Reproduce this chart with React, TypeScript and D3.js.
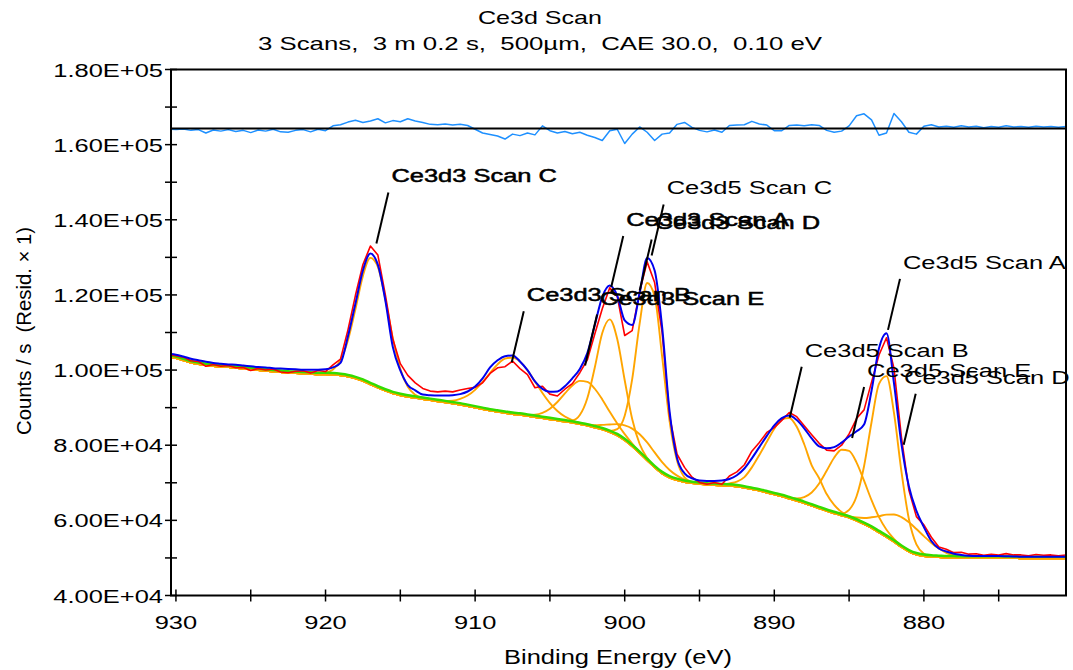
import * as d3 from 'd3';

// binding energy grid of the exported spectrum, 0.5 eV steps (930.5 -> 870.5)
const energy = d3.range(930.5, 870.4, -0.5);

// envelope (fitted sum), counts/s
const envelope = [
  104300, 104100, 103600, 103000, 102600, 102200, 101900, 101700, 101500, 101400,
  101200, 101000, 100800, 100700, 100500, 100400, 100300, 100200, 100100, 100100,
  100100, 100200, 100700, 101900, 109000, 117700, 126500, 131000, 128000, 118500,
  106100, 99900, 96000, 94600, 93500, 93300, 93200, 93200, 93300, 93600,
  94300, 95600, 97800, 100700, 102600, 103700, 103900, 102300, 100000, 97000,
  95000, 94200, 94300, 95700, 97800, 100300, 104500, 112000, 119500, 122500,
  119800, 113200, 112000, 120500, 129800, 126500, 111500, 89000, 76500, 72500,
  71200, 70600, 70500, 70500, 70600, 71000, 72000, 73800, 76500, 79500,
  82500, 85300, 87200, 87900, 86700, 84500, 81800, 79700, 79200, 79500,
  80700, 82300, 83700, 85500, 94500, 105800, 109800, 96500, 80300, 69000,
  62500, 58200, 54500, 52500, 51700, 51100, 50800, 50600, 50500, 50500,
  50500, 50500, 50450, 50400, 50300, 50300, 50300, 50300, 50300, 50300,
  50300,
];

// Shirley background
const background = [
  104000, 103600, 103000, 102400, 102000, 101700, 101500, 101300, 101200, 101000,
  100800, 100600, 100400, 100200, 100000, 99900, 99700, 99600, 99500, 99400,
  99300, 99300, 99200, 99000, 98700, 98200, 97500, 96600, 95700, 94900,
  94200, 93700, 93300, 93000, 92700, 92400, 92100, 91800, 91500, 91200,
  90800, 90400, 90000, 89600, 89300, 89000, 88700, 88500, 88200, 87900,
  87600, 87300, 87000, 86700, 86400, 86000, 85600, 85100, 84600, 83900,
  83000, 81700, 80100, 78300, 76400, 74500, 72900, 71800, 71100, 70600,
  70300, 70100, 69900, 69800, 69700, 69600, 69400, 69100, 68700, 68300,
  67800, 67300, 66800, 66200, 65600, 65000, 64300, 63600, 62900, 62300,
  61700, 61100, 60300, 59400, 58400, 57200, 56000, 54700, 53300, 52100,
  51300, 50900, 50700, 50600, 50500, 50500, 50450, 50450, 50450, 50450,
  50450, 50450, 50400, 50400, 50300, 50300, 50300, 50300, 50300, 50300,
  50300,
];

// residual (raw - fit)
const residual = [
  -200, -300, -150, -500, -300, -1200, -400, -700, -300, -800,
  -500, -1100, -400, -700, -200, -900, -1000, -500, -300, -900,
  -200, -600, 700, 1000, 1700, 2200, 1600, 2000, 2600, 1500,
  2100, 1800, 2600, 2000, 1600, 1100, 1000, 1200, 900, 1100,
  800, -200, -1200, -1600, -2000, -2800, -1500, -1900, -1200, -1700,
  700, -600, -1200, -800, -1400, -1000, -1800, -2400, -3200, -600,
  -200, -4000, -1500, 400, -1000, -3200, -1500, -1200, 1100, 1600,
  300, -500, -900, -400, -1000, 800, 900, 1000, 1900, 1200,
  900, -600, -600, 800, 900, 700, 1000, 800, -500, -1000,
  -700, 700, 3400, 3900, 2300, -1800, -1200, 4000, 1800, -1000,
  -1500, 600, 1000, 400, 600, 300, 700, 400, 600, 200,
  500, 300, 700, 400, 500, 300, 600, 400, 500, 300,
  500,
];
const residualOffset = 164300;

// component heights above background, from their start energy in 0.5 eV steps
const ce3d3CStart = 920;
const ce3d3C = [350, 1330, 4020, 9660, 18450, 27970, 33650, 32130, 24350, 14650, 7000, 2650, 800, 190];
const ce3d3BStart = 913;
const ce3d3B = [50, 135, 335, 750, 1530, 2820, 4740, 7230, 10020, 12610, 14430, 15000, 14150, 12140, 9460, 6690, 4300, 2510, 1330, 640, 280, 110, 40];
const ce3d3EStart = 907.5;
const ce3d3E = [20, 80, 237, 620, 1410, 2820, 4910, 7470, 9920, 11520, 11670, 10330, 7990, 5390, 3180, 1640, 740, 290, 100, 30];
const ce3d3AStart = 904;
const ce3d3A = [100, 590, 2430, 7290, 15990, 25650, 30000, 25650, 15990, 7290, 2430, 590, 100];
const ce3d3DStart = 904;
const ce3d3D = [20, 50, 130, 310, 650, 1215, 2020, 3000, 3990, 4730, 5000, 4730, 3990, 3000, 2020, 1215, 650, 310, 130, 50, 20];
const ce3d5CStart = 901.5;
const ce3d5C = [40, 310, 1690, 6540, 17870, 34530, 47180, 45570, 31120, 15030, 5130, 1240, 210];
const ce3d5BStart = 894;
const ce3d5B = [60, 250, 650, 1300, 2800, 5800, 9500, 13500, 17500, 20500, 21460, 19700, 15650, 10750, 8000, 4500, 2200, 900, 250, 60, 14];
const ce3d5EStart = 890;
const ce3d5E = [15, 60, 210, 630, 1610, 3530, 6630, 10690, 14780, 17510, 17780, 15480, 11550, 7390, 4050, 1900, 770, 265, 80, 20];
const ce3d5AStart = 886;
const ce3d5A = [100, 520, 2100, 6500, 15390, 28120, 39540, 42780, 34290, 20080, 8600, 2690, 610, 100, 20];
const ce3d5DStart = 887;
const ce3d5D = [6, 20, 60, 160, 390, 850, 1630, 2810, 4320, 5930, 7270, 7960, 7780, 6790, 5300, 3690, 2290, 1270, 630, 280, 110, 40, 12];

// peak labels and where their leaders point
const labelNames = ['Ce3d3 Scan C', 'Ce3d5 Scan C', 'Ce3d3 Scan A', 'Ce3d3 Scan D', 'Ce3d5 Scan A', 'Ce3d3 Scan B', 'Ce3d3 Scan E', 'Ce3d5 Scan B', 'Ce3d5 Scan E', 'Ce3d5 Scan D'];
const labelEnergy = [916.6, 898.2, 900.9, 899.0, 882.4, 907.55, 902.65, 888.97, 884.8, 881.35];
const labelCounts = [133700, 130500, 122100, 121200, 110700, 102100, 101200, 87300, 81900, 80100];

const yTickValues = [40000, 60000, 80000, 100000, 120000, 140000, 160000, 180000];
const yTickLabels = ['4.00E+04', '6.00E+04', '8.00E+04', '1.00E+05', '1.20E+05', '1.40E+05', '1.60E+05', '1.80E+05'];
const xTickValues = [930, 920, 910, 900, 890, 880];
const xTickLabels = ['930', '920', '910', '900', '890', '880'];

const W = 1073;
const H = 670;
const plot = { left: 171, right: 1066, top: 69.5, bottom: 595.5 };
const sans = 'Liberation Sans, Arial, sans-serif';
const narrow = 'Liberation Sans Narrow, Liberation Sans, Arial, sans-serif';

function compAt(start: number, values: number[], e: number) {
  const idx = Math.round((start - e) / 0.5);
  return idx >= 0 && idx < values.length ? values[idx] : 0;
}

export default function App() {
  const x = d3.scaleLinear().domain([930.33, 870.5]).range([plot.left, plot.right]);
  const y = d3.scaleLinear().domain([40000, 180000]).range([plot.bottom, plot.top]);

  const smooth = d3
    .line<number>()
    .x((d, i) => x(energy[i]))
    .y((d) => y(d))
    .curve(d3.curveMonotoneX);
  const straight = d3
    .line<number>()
    .x((d, i) => x(energy[i]))
    .y((d) => y(d));

  const envPath = smooth(envelope) || '';
  const bgPath = smooth(background) || '';
  // raw counts = fit + residual
  const raw = envelope.map((v, i) => v + residual[i]);
  const rawPath = straight(raw) || '';
  const residPath = straight(residual.map((r) => residualOffset + r)) || '';

  const comps: [number, number[]][] = [
    [ce3d3CStart, ce3d3C],
    [ce3d3BStart, ce3d3B],
    [ce3d3EStart, ce3d3E],
    [ce3d3AStart, ce3d3A],
    [ce3d3DStart, ce3d3D],
    [ce3d5CStart, ce3d5C],
    [ce3d5BStart, ce3d5B],
    [ce3d5EStart, ce3d5E],
    [ce3d5AStart, ce3d5A],
    [ce3d5DStart, ce3d5D],
  ];
  const compPaths = comps.map(
    ([start, values]) => smooth(background.map((b, i) => b + compAt(start, values, energy[i]))) || ''
  );

  const yMinor = d3.range(40000, 180001, 10000);
  const xMinor = d3.range(930, 872, -5);
  const sx = 1.34;

  return (
    <div style={{ position: 'absolute', left: 0, top: 0 }}>
      <svg width={W} height={H} style={{ display: 'block', background: '#fff' }}>
        <defs>
          <clipPath id="plot-clip">
            <rect x={plot.left} y={plot.top} width={plot.right - plot.left} height={plot.bottom - plot.top} />
          </clipPath>
        </defs>

        <text x={540} y={24} textAnchor="middle" fontFamily={narrow} fontSize={19} textLength={124} lengthAdjust="spacingAndGlyphs">
          Ce3d Scan
        </text>
        <text x={540} y={50} textAnchor="middle" fontFamily={narrow} fontSize={19} textLength={564} lengthAdjust="spacingAndGlyphs" style={{ whiteSpace: 'pre' }}>
          {'3 Scans,  3 m 0.2 s,  500µm,  CAE 30.0,  0.10 eV'}
        </text>

        <g clipPath="url(#plot-clip)" fill="none">
          <g transform="translate(0,1.5)">
            {compPaths.map((p, i) => (
              <path key={i} d={p} stroke="#ffa500" strokeWidth={1.9} />
            ))}
          </g>
          <path d={bgPath} stroke="#33dd00" strokeWidth={2.5} />
          <path d={rawPath} stroke="#ff0000" strokeWidth={1.6} strokeLinejoin="round" />
          <path d={envPath} stroke="#0000ee" strokeWidth={2} />
          <path d={residPath} stroke="#1e90ff" strokeWidth={1.5} strokeLinejoin="round" />
          <line x1={plot.left} x2={plot.right} y1={y(residualOffset)} y2={y(residualOffset)} stroke="#000" strokeWidth={2} />
        </g>

        {/* frame */}
        <rect x={plot.left} y={plot.top} width={plot.right - plot.left} height={plot.bottom - plot.top} fill="none" stroke="#000" strokeWidth={2} />

        {/* y axis */}
        {yMinor.map((v) => (
          <line key={v} x1={plot.left - 6} x2={plot.left + 6} y1={y(v)} y2={y(v)} stroke="#000" strokeWidth={1.5} />
        ))}
        {yTickValues.map((v, i) => (
          <text key={v} transform={`translate(163,${y(v) + 7}) scale(${sx},1)`} textAnchor="end" fontFamily={sans} fontSize={19} fill="#000">
            {yTickLabels[i]}
          </text>
        ))}

        {/* x axis */}
        {xMinor.map((v) => (
          <line key={v} x1={x(v)} x2={x(v)} y1={plot.bottom - 6} y2={plot.bottom + 6} stroke="#000" strokeWidth={1.5} />
        ))}
        {xTickValues.map((v, i) => (
          <text key={v} transform={`translate(${x(v)},629) scale(${sx},1)`} textAnchor="middle" fontFamily={sans} fontSize={19} fill="#000">
            {xTickLabels[i]}
          </text>
        ))}

        <text x={618} y={664} textAnchor="middle" fontFamily={narrow} fontSize={20} textLength={228} lengthAdjust="spacingAndGlyphs">
          Binding Energy (eV)
        </text>
        <text transform="translate(31,331) rotate(-90)" textAnchor="middle" fontFamily={narrow} fontSize={20} textLength={208} lengthAdjust="spacingAndGlyphs" style={{ whiteSpace: 'pre' }}>
          {'Counts / s  (Resid. × 1)'}
        </text>

        {/* peak labels with leaders */}
        {labelNames.map((name, i) => {
          const tx = x(labelEnergy[i]);
          const ty = y(labelCounts[i]);
          const left = Math.min(tx + 15, 1068 - 164);
          const isD3 = name.startsWith('Ce3d3');
          return (
            <g key={name}>
              <line x1={tx} y1={ty} x2={tx + 12} y2={ty - 51} stroke="#000" strokeWidth={2} />
              <text
                transform={`translate(${left},${ty - 61}) scale(${sx},1)`}
                fontFamily={sans}
                fontSize={19}
                fill="#000"
                stroke={isD3 ? '#000' : 'none'}
                strokeWidth={isD3 ? 0.5 : 0}
              >
                {name}
              </text>
            </g>
          );
        })}
      </svg>
    </div>
  );
}
